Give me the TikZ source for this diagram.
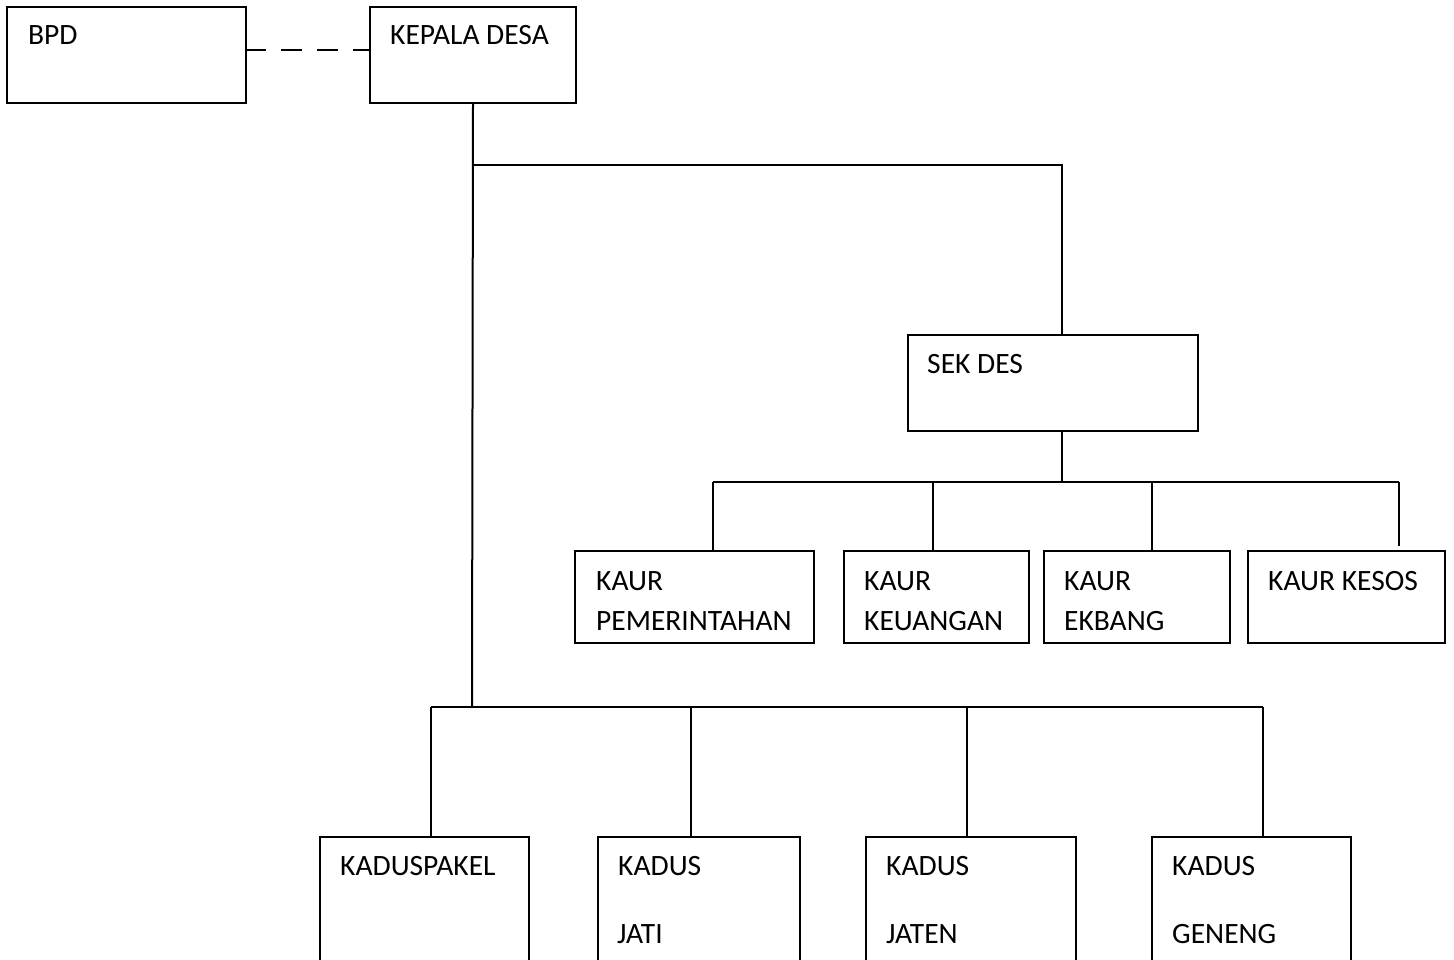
\documentclass[tikz,border=0pt]{standalone}
\usepackage{fontspec}
\setmainfont{Carlito}
\begin{document}
\begin{tikzpicture}[x=1pt,y=-1pt,
  box/.style 2 args={draw, line width=2pt, rectangle, anchor=north west, inner sep=0pt, minimum width=#1, minimum height=#2},
  lbl/.style={anchor=base west, inner sep=0pt, font=\fontsize{29.5pt}{35pt}\selectfont},
  conn/.style={line width=2pt},
  dashconn/.style={line width=2pt, dash pattern=on 21pt off 15pt}]
\useasboundingbox (0,0) rectangle (1454,960);
\clip (0,0) rectangle (1454,960);
% boxes
\node[box={239pt}{96pt}] (bpd) at (6,6) {};
\node[box={206pt}{96pt}] (kd) at (369,6) {};
\node[box={290pt}{96pt}] (sek) at (907,334) {};
\node[box={239pt}{92pt}] (pem) at (574,550) {};
\node[box={185pt}{92pt}] (keu) at (843,550) {};
\node[box={186pt}{92pt}] (ekb) at (1043,550) {};
\node[box={197pt}{92pt}] (kes) at (1247,550) {};
\node[box={209pt}{170pt}] (pak) at (319,836) {};
\node[box={202pt}{170pt}] (jati) at (597,836) {};
\node[box={210pt}{170pt}] (jaten) at (865,836) {};
\node[box={199pt}{170pt}] (gen) at (1151,836) {};
% labels
\node[lbl] (tbpd) at (28,45) {BPD};
\node[lbl] (tkd) at (390,45) {KEPALA DESA};
\node[lbl] (tsek) at (927,373) {SEK DES};
\node[lbl] (tpem1) at (596,590) {KAUR};
\node[lbl] (tpem2) at (596,630) {PEMERINTAHAN};
\node[lbl] (tkeu1) at (864,590) {KAUR};
\node[lbl] (tkeu2) at (864,630) {KEUANGAN};
\node[lbl] (tekb1) at (1064,590) {KAUR};
\node[lbl] (tekb2) at (1064,630) {EKBANG};
\node[lbl] (tkes) at (1268,590) {KAUR KESOS};
\node[lbl] (tpak) at (340,875) {KADUSPAKEL};
\node[lbl] (tjati1) at (618,875) {KADUS};
\node[lbl] (tjati2) at (617,943) {JATI};
\node[lbl] (tjaten1) at (886,875) {KADUS};
\node[lbl] (tjaten2) at (886,943) {JATEN};
\node[lbl] (tgen1) at (1172,875) {KADUS};
\node[lbl] (tgen2) at (1172,943) {GENENG};
% junction coordinates
\coordinate (d1) at (245,50);
\coordinate (d2) at (369,50);
\coordinate (j1) at (472,165);
\coordinate (j2) at (1062,165);
\coordinate (j3) at (472,707);
\coordinate (s1) at (1062,482);
\coordinate (k1) at (713,482);
\coordinate (k2) at (933,482);
\coordinate (k3) at (1152,482);
\coordinate (k4) at (1399,482);
\coordinate (k4e) at (1399,546);
\coordinate (b1) at (431,707);
\coordinate (b2) at (691,707);
\coordinate (b3) at (967,707);
\coordinate (b4) at (1263,707);
% connectors
\draw[dashconn] (d1) -- (d2);
\draw[conn] (kd.south) -- (j3);
\draw[conn] (j1) -- (j2) -- (j2 |- sek.north);
\draw[conn] (j2 |- sek.south) -- (s1);
\draw[conn] (k1) -- (k4);
\draw[conn] (k1) -- (k1 |- pem.north);
\draw[conn] (k2) -- (k2 |- keu.north);
\draw[conn] (k3) -- (k3 |- ekb.north);
\draw[conn] (k4) -- (k4e);
\draw[conn] (b1) -- (b4);
\draw[conn] (b1) -- (b1 |- pak.north);
\draw[conn] (b2) -- (b2 |- jati.north);
\draw[conn] (b3) -- (b3 |- jaten.north);
\draw[conn] (b4) -- (b4 |- gen.north);
\end{tikzpicture}
\end{document}
